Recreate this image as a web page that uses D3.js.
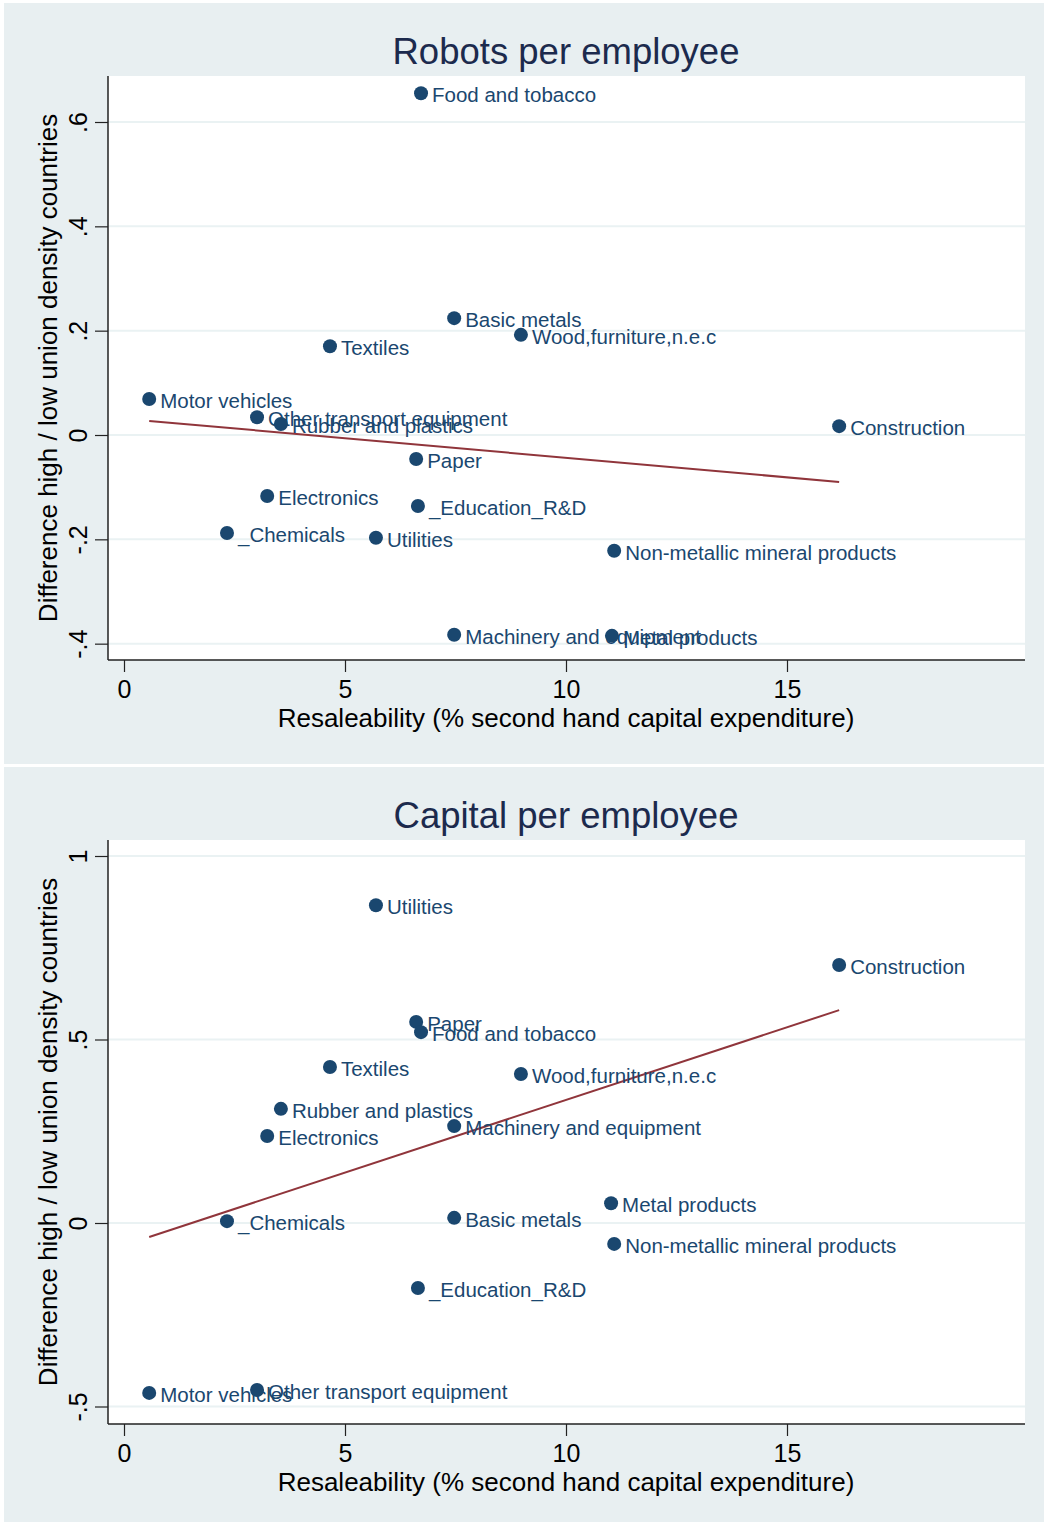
<!DOCTYPE html>
<html>
<head>
<meta charset="utf-8">
<script src="https://cdn.jsdelivr.net/npm/d3@7"></script>
<style>
  body { margin: 0; background: #fff; }
  text { font-family: "Liberation Sans", Arial, Helvetica, sans-serif; }
</style>
</head>
<body>
<svg id="chart" width="1044" height="1522"></svg>
<script>
// industries, resaleability (x) and union-density differences (y)
const robotNames = ["Food and tobacco", "Basic metals", "Wood,furniture,n.e.c", "Textiles", "Motor vehicles",
  "Other transport equipment", "Rubber and plastics", "Construction", "Paper", "Electronics",
  "_Education_R&D", "_Chemicals", "Utilities", "Non-metallic mineral products",
  "Machinery and equipment", "Metal products"]
const robotX = [6.72, 7.47, 8.98, 4.66, 0.57, 3.01, 3.55, 16.18, 6.61, 3.24, 6.65, 2.33, 5.70, 11.09, 7.47, 11.04]
const robotY = [0.655, 0.224, 0.192, 0.170, 0.069, 0.034, 0.021, 0.017, -0.046, -0.117, -0.136, -0.188, -0.197, -0.222, -0.383, -0.385]
const robotFit = [[0.57, 0.027], [16.18, -0.090]]

const capitalNames = ["Utilities", "Construction", "Paper", "Food and tobacco", "Textiles", "Wood,furniture,n.e.c",
  "Rubber and plastics", "Machinery and equipment", "Electronics", "Metal products", "_Chemicals",
  "Basic metals", "Non-metallic mineral products", "_Education_R&D", "Motor vehicles", "Other transport equipment"]
const capitalX = [5.70, 16.18, 6.61, 6.72, 4.66, 8.98, 3.55, 7.47, 3.24, 11.02, 2.33, 7.47, 11.09, 6.65, 0.57, 3.01]
const capitalY = [0.866, 0.703, 0.548, 0.520, 0.425, 0.406, 0.311, 0.264, 0.237, 0.054, 0.005, 0.014, -0.057, -0.177, -0.463, -0.455]
const capitalFit = [[0.57, -0.038], [16.18, 0.580]]

const xTicks = [0, 5, 10, 15]
const robotTicks = [0.6, 0.4, 0.2, 0, -0.2, -0.4]
const robotTickLabels = [".6", ".4", ".2", "0", "-.2", "-.4"]
const capitalTicks = [1, 0.5, 0, -0.5]
const capitalTickLabels = ["1", ".5", "0", "-.5"]

const xLabel = "Resaleability (% second hand capital expenditure)"
const yLabel = "Difference high / low union density countries"

const svg = d3.select("#chart")

const bg = "#e8eff1", grid = "#eaf2f3", navy = "#1a476f", fitColor = "#90353b"

function drawPanel(cfg) {
  const g = svg.append("g").attr("transform", "translate(0," + cfg.top + ")")

  g.append("rect")
    .attr("x", 4).attr("y", 0)
    .attr("width", 1040).attr("height", cfg.panelH)
    .attr("fill", bg)

  const plot = { left: 108, right: 1025, top: 73, bottom: 657 }

  const x = d3.scaleLinear().domain([0, 15]).range([124, 787])
  const y = d3.scaleLinear().domain(cfg.yRef).range(cfg.yPix)

  g.append("rect")
    .attr("x", plot.left).attr("y", plot.top)
    .attr("width", plot.right - plot.left).attr("height", plot.bottom - plot.top)
    .attr("fill", "#fff")

  // gridlines
  g.selectAll(".grid").data(cfg.ticks).join("line")
    .attr("class", "grid")
    .attr("x1", plot.left).attr("x2", plot.right)
    .attr("y1", d => y(d)).attr("y2", d => y(d))
    .attr("stroke", grid).attr("stroke-width", 2)

  // axes
  const yAxis = d3.axisLeft(y).tickValues(cfg.ticks).tickSize(13).tickSizeOuter(0)
    .tickFormat((d, i) => cfg.tickLabels[i])
  const ya = g.append("g").attr("transform", "translate(" + plot.left + ",0)").call(yAxis)
  ya.select(".domain").attr("d", "M0," + plot.top + "V" + plot.bottom).attr("stroke", "#222").attr("stroke-width", 1.5)
  ya.selectAll(".tick line").attr("stroke", "#222").attr("stroke-width", 1.2)
  ya.selectAll(".tick text")
    .attr("x", null).attr("dy", null)
    .attr("transform", "translate(-21,0) rotate(-90)")
    .attr("text-anchor", "middle")
    .attr("font-size", 25).attr("fill", "#000")

  const xAxis = d3.axisBottom(x).tickValues(xTicks).tickSize(12).tickSizeOuter(0)
  const xa = g.append("g").attr("transform", "translate(0," + plot.bottom + ")").call(xAxis)
  xa.select(".domain").attr("d", "M" + plot.left + ",0H" + plot.right).attr("stroke", "#222").attr("stroke-width", 1.5)
  xa.selectAll(".tick line").attr("stroke", "#222").attr("stroke-width", 1.2)
  xa.selectAll(".tick text").attr("y", 20).attr("dy", "0.71em")
    .attr("font-size", 25).attr("fill", "#000")

  // titles
  g.append("text")
    .attr("x", 566).attr("y", 61)
    .attr("text-anchor", "middle")
    .attr("font-size", 36.5).attr("fill", "#1c2a4d")
    .text(cfg.title)

  g.append("text")
    .attr("x", 566).attr("y", 724)
    .attr("text-anchor", "middle")
    .attr("font-size", 26).attr("fill", "#000")
    .text(xLabel)

  g.append("text")
    .attr("transform", "translate(57," + ((plot.top + plot.bottom) / 2) + ") rotate(-90)")
    .attr("text-anchor", "middle")
    .attr("font-size", 26).attr("fill", "#000")
    .text(yLabel)

  // fit line
  g.append("path")
    .datum(cfg.fit)
    .attr("d", d3.line().x(d => x(d[0])).y(d => y(d[1])))
    .attr("stroke", fitColor).attr("stroke-width", 2).attr("fill", "none")

  const pts = cfg.names.map((n, i) => ({ name: n, x: cfg.xs[i], y: cfg.ys[i] }))

  g.selectAll(".pt").data(pts).join("circle")
    .attr("class", "pt")
    .attr("cx", d => x(d.x)).attr("cy", d => y(d.y))
    .attr("r", 7).attr("fill", navy)

  g.selectAll(".lbl").data(pts).join("text")
    .attr("class", "lbl")
    .attr("x", d => x(d.x) + 11).attr("y", d => y(d.y) + 9)
    .attr("font-size", 20.5).attr("fill", navy)
    .text(d => d.name)
}

drawPanel({
  top: 3, panelH: 761, title: "Robots per employee",
  names: robotNames, xs: robotX, ys: robotY, fit: robotFit,
  ticks: robotTicks, tickLabels: robotTickLabels,
  yRef: [0, 0.6], yPix: [432, 119]
})

drawPanel({
  top: 767, panelH: 755, title: "Capital per employee",
  names: capitalNames, xs: capitalX, ys: capitalY, fit: capitalFit,
  ticks: capitalTicks, tickLabels: capitalTickLabels,
  yRef: [0, 1], yPix: [456, 89]
})
</script>
</body>
</html>
